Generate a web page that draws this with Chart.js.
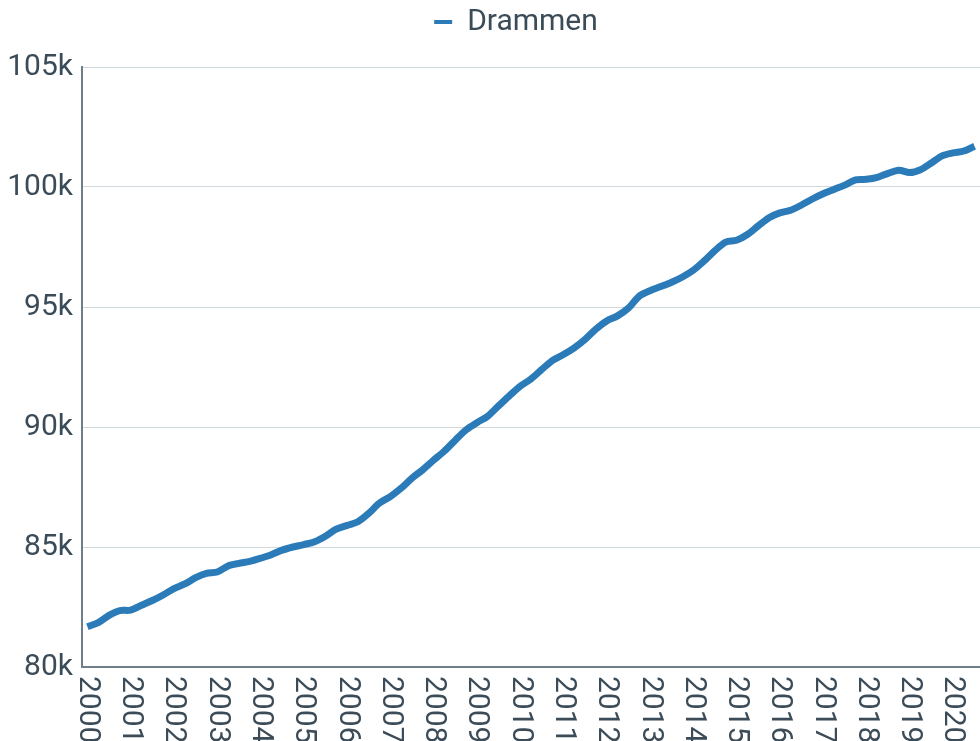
<!DOCTYPE html>
<html>
<head>
<meta charset="utf-8">
<script src="https://cdn.jsdelivr.net/npm/chart.js@4"></script>
<style>
  html, body { margin: 0; padding: 0; background: #fff; overflow: hidden; }
  #wrap { width: 980px; height: 741px; }
</style>
</head>
<body>
<div id="wrap"><canvas id="myChart"></canvas></div>
<script>
// quarterly population, Drammen, 2000K1 - 2020K3
const years = [];
for (let y = 2000; y <= 2020; y++) years.push(y);
const quarters = [];
years.forEach(y => ["K1", "K2", "K3", "K4"].forEach(q => quarters.push(y + q)));
quarters.splice(83); // ends at 2020K3

const population = [
    81680, 81850, 82150, 82350, 82370, 82570, 82770, 83000, 83270, 83460,
    83720, 83900, 83960, 84210, 84320, 84400, 84530, 84680, 84870, 85000,
    85100, 85220, 85450, 85740, 85900, 86050, 86400, 86830, 87100, 87450,
    87870, 88220, 88620, 89000, 89450, 89880, 90180, 90450, 90880, 91300,
    91700, 92000, 92400, 92780, 93020, 93300, 93650, 94080, 94420, 94630,
    94950, 95450, 95680, 95850, 96030, 96250, 96530, 96920, 97350, 97700,
    97780, 98020, 98380, 98720, 98920, 99030, 99250, 99500, 99720, 99900,
    100080, 100300, 100320, 100400, 100570, 100700, 100600, 100720, 101000, 101300,
    101420, 101500, 101700
];

const yTicks = [80000, 85000, 90000, 95000, 100000, 105000];

const TEXT = "#3b4c58";
const AXIS = "#6e7f89";
const GRID = "#cfd8dc";
const LINE = "#2b7bb9";
const FONT = "Roboto";

/* =========================
   PLUGIN: LEGEND SPACING
========================= */
const legendTweak = {
    id: "legendTweak",
    beforeLayout(chart) {
        const lg = chart.legend;
        if (lg && !lg._tweaked) {
            const fit = lg.fit;
            lg.fit = function () {
                fit.call(this);
                this.height = 67;
            };
            lg._tweaked = true;
        }
    },
    afterLayout(chart) {
        if (chart.legend) chart.legend.left += 52;
    }
};

/* =========================
   PLUGIN: YEAR LABELS (rotated)
========================= */
const yearLabels = {
    id: "yearLabels",
    afterDraw(chart) {
        const x = chart.scales.x;
        const ctx = chart.ctx;
        ctx.save();
        ctx.fillStyle = TEXT;
        ctx.font = `30px ${FONT}`;
        ctx.textAlign = "left";
        ctx.textBaseline = "middle";
        quarters.forEach((q, i) => {
            if (!q.endsWith("K1")) return;
            const px = x.getPixelForValue(i);
            ctx.save();
            ctx.translate(px, x.top + 9);
            ctx.rotate(Math.PI / 2);
            ctx.fillText(q.slice(0, 4), 0, 0);
            ctx.restore();
        });
        ctx.restore();
    }
};

new Chart(document.getElementById("myChart"), {
    type: "line",
    data: {
        labels: quarters,
        datasets: [{
            label: "Drammen",
            data: population,
            borderColor: LINE,
            backgroundColor: LINE,
            borderWidth: 7,
            pointRadius: 0,
            tension: 0.3,
            borderJoinStyle: "round",
            fill: false
        }]
    },
    options: {
        responsive: true,
        maintainAspectRatio: false,
        animation: false,
        devicePixelRatio: 1,
        layout: { padding: 0 },
        plugins: {
            tooltip: { enabled: false },
            legend: {
                position: "top",
                labels: {
                    color: TEXT,
                    font: { family: FONT, size: 30 },
                    boxWidth: 18,
                    boxHeight: 4,
                    padding: 7,
                    generateLabels: (chart) => chart.data.datasets.map((ds, i) => ({
                        text: ds.label,
                        fillStyle: ds.borderColor,
                        strokeStyle: ds.borderColor,
                        lineWidth: 0,
                        fontColor: TEXT,
                        datasetIndex: i
                    }))
                }
            }
        },
        scales: {
            x: {
                type: "category",
                offset: true,
                grid: { display: false, drawTicks: false },
                border: { display: true, color: AXIS, width: 2 },
                ticks: { display: false },
                afterFit: (s) => { s.height = 74; }
            },
            y: {
                min: yTicks[0],
                max: yTicks[yTicks.length - 1],
                afterBuildTicks: (s) => { s.ticks = yTicks.map(v => ({ value: v })); },
                grid: { color: GRID, lineWidth: 1, drawTicks: false },
                border: { display: true, color: AXIS, width: 2 },
                ticks: {
                    color: TEXT,
                    font: { family: FONT, size: 30 },
                    padding: 9,
                    callback: (v) => (v / 1000) + "k"
                },
                afterFit: (s) => { s.width = 82; }
            }
        }
    },
    plugins: [legendTweak, yearLabels]
});
</script>
</body>
</html>
